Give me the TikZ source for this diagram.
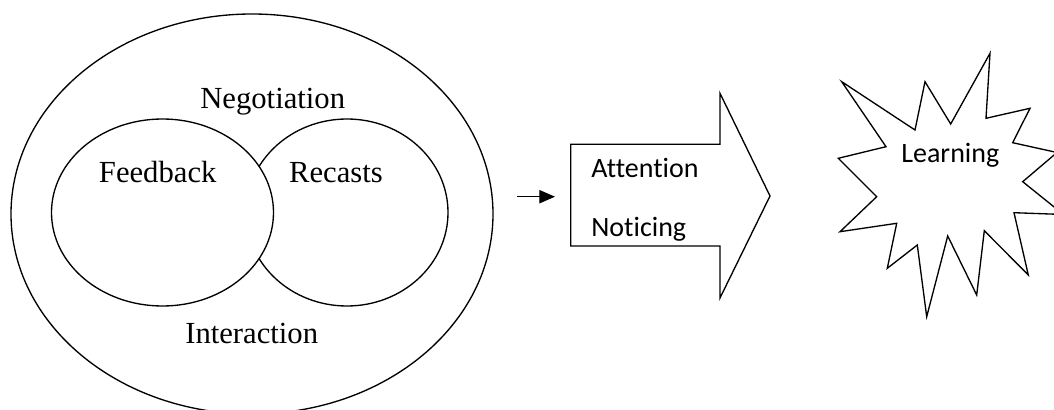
\documentclass[tikz,border=0pt]{standalone}
\usepackage{fontspec}
\setmainfont{Liberation Serif}
\newfontfamily\calibri[Ligatures={NoCommon,NoRequired,NoContextual}]{Carlito}
\usetikzlibrary{arrows.meta,shapes.geometric}
\begin{document}
\begin{tikzpicture}[x=0.75pt,y=-0.75pt,line width=1pt,
  serif/.style={inner sep=0pt,anchor=base,font=\fontsize{23}{27}\selectfont},
  sans/.style={inner sep=0pt,anchor=base west,font=\calibri\fontsize{21}{25}\selectfont},
  oval/.style={draw,ellipse,inner sep=0pt}]
\useasboundingbox (0,0) rectangle (1054,410);
\fill[white] (0,0) rectangle (1054,410);
% circles
\node[oval,minimum width=361.5pt,minimum height=300pt] (outer) at (252,214) {};
\node[oval,minimum width=151.5pt,minimum height=140.25pt] (recc) at (347,212.5) {};
\node[oval,fill=white,minimum width=166.5pt,minimum height=140.25pt] (feedc) at (162.5,212.5) {};
\node[serif] (neg) at (272.7,108.3) {Negotiation};
\node[serif] (feed) at (157.7,182.7) {Feedback};
\node[serif] (rec) at (336,182.7) {Recasts};
\node[serif] (inter) at (251.7,343.3) {Interaction};
% small arrow
\coordinate (sa) at (517,196.7);
\coordinate (sb) at (555,196.7);
\draw[line width=0.9pt,-{Triangle[length=11.8pt,width=10pt]}] (sa) -- (sb);
% big arrow
\draw[line join=miter] (570.7,144.3) -- (720,144.3) -- (720,93.3) -- (770,196)
  -- (720,298) -- (720,246) -- (570.7,246) -- cycle;
\node[sans] (att) at (590.7,177.3) {Attention};
\node[sans] (not) at (590.7,236.7) {Noticing};
% star
\draw[line join=miter] (841.7,81.7) -- (915,130) -- (925,81.7) -- (950.7,124)
  -- (990,53.3) -- (986,118.3) -- (1030,108.3) -- (1012.7,142.7)
  -- (1057,152.5) -- (1022.7,181.7) -- (1063.5,214.5) -- (1014,212.7)
  -- (1028.3,275) -- (984.3,230.7) -- (976.7,295) -- (947.7,236)
  -- (926.7,316.7) -- (917.3,245) -- (887.3,268.3) -- (896.7,223.3)
  -- (840,231.7) -- (876.7,196.7) -- (838.3,158.3) -- (886,146.7) -- cycle;
\node[sans] (learn) at (900.7,162.7) {Learning};
\end{tikzpicture}
\end{document}
